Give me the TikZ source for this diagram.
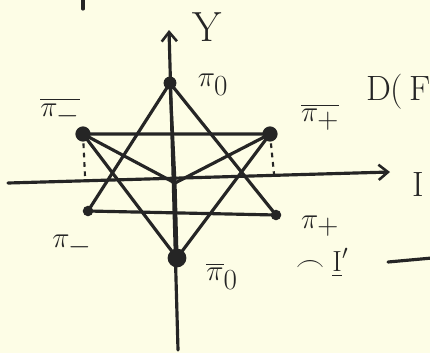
\documentclass[tikz,border=0pt]{standalone}
\usepackage{amsmath,amssymb}
\usetikzlibrary{arrows.meta}
\definecolor{paper}{HTML}{FDFDE6}
\definecolor{ink}{HTML}{252525}
\begin{document}
\begin{tikzpicture}[x=0.03cm,y=-0.03cm,
  pen/.style={draw=ink,line width=2.7pt,line cap=round},
  dot/.style={circle,fill=ink,inner sep=0pt,minimum size=#1},
  lab/.style={text=ink,font=\fontsize{24}{26}\selectfont},
  big/.style={text=ink,font=\fontsize{30}{34}\selectfont},
  axarrow/.style={-{Straight Barb[length=8pt,width=13pt,line width=2.2pt]}}]
\fill[paper] (0,0) rectangle (430,353);
\useasboundingbox (0,0) rectangle (430,353);
% meson points
\node[dot=11pt] (p0) at (170,83) {};
\node[dot=13pt] (abm) at (83,134) {};
\node[dot=13pt] (abp) at (270,134) {};
\node[dot=9pt] (pm) at (88,211) {};
\node[dot=9pt] (pp) at (276,215) {};
\node[dot=16pt] (ab0) at (177,258) {};
\coordinate (c) at (175,183);
% axes
\coordinate (yb) at (178,350);
\coordinate (yt) at (169,30);
\coordinate (xl) at (8,183);
\coordinate (xr) at (390,172);
\draw[pen,axarrow] (yb) -- (yt);
\draw[pen,axarrow] (xl) -- (xr);
% triangles
\draw[pen] (p0.center) -- (pm.center) -- (pp.center) -- cycle;
\draw[pen] (abm.center) -- (abp.center) -- (ab0.center) -- cycle;
% lines to center
\draw[pen] (abm.center) -- (c);
\draw[pen] (abp.center) -- (c);
\draw[pen] (p0.center) -- (c) -- (ab0.center);
% dashed projections
\coordinate (dm) at (85,176);
\coordinate (dp) at (274,174);
\draw[ink,line width=1.8pt,dash pattern=on 4pt off 4pt] (abm.center) -- (dm);
\draw[ink,line width=1.8pt,dash pattern=on 4pt off 4pt] (abp.center) -- (dp);
% labels
\node[lab] (lp0) at (213,85) {$\pi_{\textstyle 0}$};
\node[lab] (labm) at (60,112) {$\overline{\pi_{\textstyle -}}$};
\node[lab] (labp) at (320,117) {$\overline{\pi_{\textstyle +}}$};
\node[lab] (lpm) at (72,246) {$\pi_{\textstyle -}$};
\node[lab] (lpp) at (320,226) {$\pi_{\textstyle +}$};
\node[lab] (lab0) at (222,276) {$\overline{\pi}_{\textstyle 0}$};
\node[text=ink,font=\fontsize{36}{40}\selectfont] (ly) at (207,27) {Y};
\node[big,anchor=west] (li) at (408,184) {I};
\node[big,anchor=west] (ld) at (362,92) {D(\,F};
\node[lab] (lq) at (322,263) {$\frown\underline{\mathrm{I}}'$};
% top tick and right arrow
\coordinate (t1) at (83,0);
\coordinate (t2) at (83,9);
\draw[pen] (t1) -- (t2);
\coordinate (ra) at (388,262);
\coordinate (rb) at (432,258);
\draw[pen] (ra) -- (rb);
\end{tikzpicture}
\end{document}
